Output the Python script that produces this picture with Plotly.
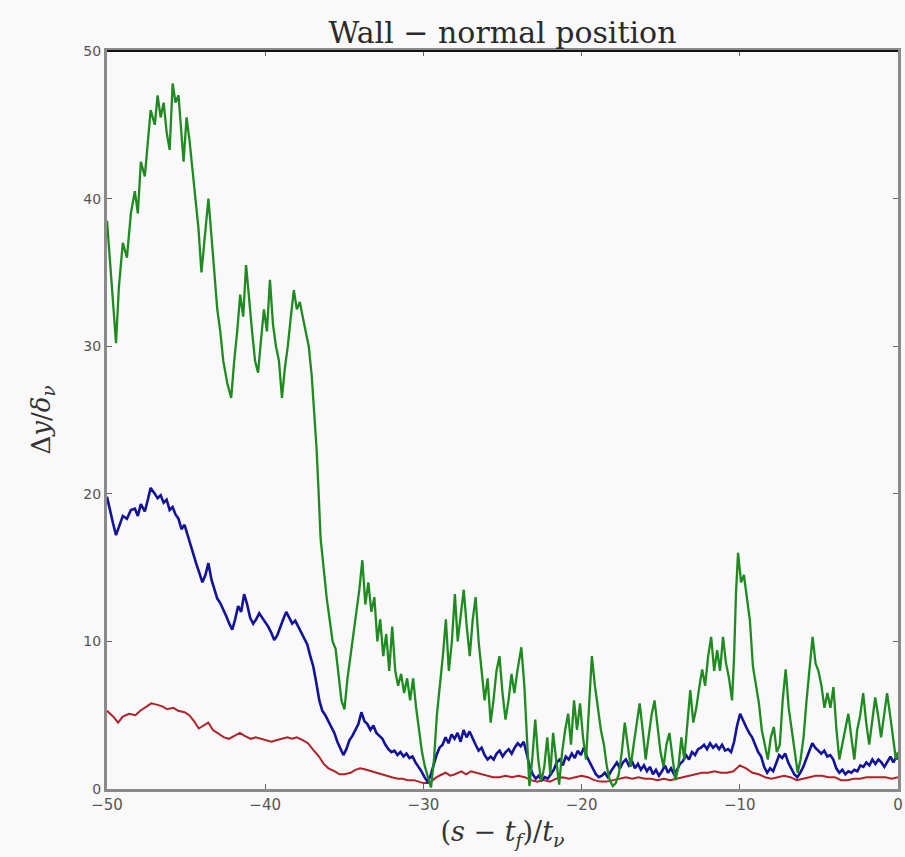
import plotly.graph_objects as go

# ---------------- data ----------------
green_x = [-50.00,-49.81,-49.62,-49.43,-49.25,-49.00,-48.74,-48.49,-48.24,-48.05,-47.86,-47.61,-47.42,-47.24,-46.98,-46.80,-46.61,-46.42,-46.23,-46.04,
           -45.85,-45.67,-45.48,-45.29,-45.16,-44.97,-44.79,-44.60,-44.41,-44.22,-44.03,-43.84,-43.59,-43.40,-43.22,-43.03,-42.84,-42.65,-42.40,-42.15,
           -41.96,-41.77,-41.58,-41.39,-41.21,-41.02,-40.83,-40.64,-40.45,-40.26,-40.08,-39.89,-39.70,-39.51,-39.32,-39.13,-38.94,-38.76,-38.57,-38.38,
           -38.19,-38.00,-37.81,-37.63,-37.44,-37.25,-37.06,-36.87,-36.75,-36.62,-36.50,-36.31,-36.12,-35.93,-35.74,-35.55,-35.36,-35.18,-34.99,-34.80,
           -34.61,-34.42,-34.23,-34.05,-33.86,-33.67,-33.48,-33.29,-33.10,-32.91,-32.73,-32.54,-32.35,-32.16,-31.97,-31.78,-31.60,-31.41,-31.22,-31.03,
           -30.84,-30.65,-30.46,-30.28,-30.09,-29.90,-29.71,-29.52,-29.33,-29.15,-28.96,-28.77,-28.58,-28.39,-28.20,-28.01,-27.83,-27.64,-27.45,-27.26,
           -27.07,-26.88,-26.70,-26.51,-26.32,-26.13,-25.94,-25.75,-25.57,-25.38,-25.19,-25.00,-24.81,-24.62,-24.43,-24.25,-24.06,-23.81,-23.62,-23.43,
           -23.30,-23.12,-22.93,-22.74,-22.55,-22.36,-22.17,-21.98,-21.80,-21.61,-21.42,-21.23,-21.04,-20.85,-20.67,-20.48,-20.29,-20.10,-19.91,-19.72,
           -19.53,-19.35,-19.16,-18.97,-18.78,-18.59,-18.40,-18.22,-18.03,-17.84,-17.65,-17.46,-17.27,-17.09,-16.90,-16.71,-16.52,-16.33,-16.14,-15.95,
           -15.77,-15.58,-15.39,-15.20,-15.01,-14.82,-14.64,-14.45,-14.26,-14.07,-13.88,-13.69,-13.51,-13.32,-13.13,-12.94,-12.75,-12.56,-12.38,-12.19,
           -12.00,-11.81,-11.62,-11.43,-11.25,-11.06,-10.87,-10.68,-10.49,-10.36,-10.24,-10.11,-9.92,-9.74,-9.55,-9.36,-9.17,-8.98,-8.79,-8.61,
           -8.42,-8.23,-8.04,-7.85,-7.66,-7.47,-7.29,-7.10,-6.91,-6.72,-6.53,-6.34,-6.16,-5.97,-5.78,-5.59,-5.40,-5.21,-5.03,-4.84,
           -4.65,-4.46,-4.27,-4.08,-3.89,-3.71,-3.52,-3.33,-3.14,-2.95,-2.76,-2.58,-2.39,-2.20,-2.01,-1.82,-1.63,-1.44,-1.26,-1.07,
           -0.88,-0.69,-0.50,-0.31,-0.13,0.00]
green_y = [38.5,36,33,30.2,34,37,36,39,40.5,39,42.5,41.5,44,46,45,47,45.5,46.5,44.5,43.3,
           47.8,46.5,47,44,42.5,45.5,44,42,40,38,35,37,40,37.5,35,32.5,31,29,27.5,26.5,
           29,31,33.5,32,35.5,33,31,29,28.2,30.5,32.5,31,34.5,31.5,30,29,26.5,28.5,30,32,
           33.8,32.5,33,32,31,30,28,25,23,20,17,15,13,11.5,10,9.5,7.5,6,5.4,7.5,
           9,10.5,12,13.5,15.5,12.5,14,12,13,10,11.5,9,10.5,8,11,8,7,7.8,6.5,7.5,
           6,7.5,5.5,4,2.5,1.5,0.8,0.1,2,5,7,9,11.5,8,10,13.2,10,12,13.5,11,
           9,11.5,13,10,8,6,7.5,4.5,6,8,9,6.5,4.7,6,7.8,6.5,8,9.6,7,3,
           0.2,2,4.7,2,0.5,1.5,3.5,1,3.8,2,0.3,2.5,4,5.1,3,6,4,5.8,3.5,2,
           6,9,7,5.4,4,3,1.5,0.6,0.2,0.4,1,2.5,4.5,3,1.5,3,4.5,5.8,4,2,
           3.5,5,6,4,2.5,1.5,3,3.8,2,0.6,1.5,3.5,2,4.5,6.7,4.5,5.5,6.9,8.1,7,
           9,10.3,8,9.4,8,10.3,8.5,7.5,6,9,13.3,16,14,14.5,12.8,11.4,8.3,7,5.8,4,
           3,2,3.5,4.2,2.5,3,6,8.1,5.5,4,2.5,1.1,2,3.5,6,8,10.3,8.5,8,7,
           5.5,6.5,5.5,6.9,4,2,3,4,5.1,3.5,2,4,5,6.5,4.5,3,4.5,6.2,5,3.5,
           5,6.5,5,3.5,2,2.5]

blue_x = [-50.00,-49.81,-49.62,-49.43,-49.25,-49.00,-48.74,-48.49,-48.24,-48.05,-47.86,-47.61,-47.42,-47.24,-46.98,-46.80,-46.61,-46.42,-46.23,-46.04,
          -45.85,-45.67,-45.48,-45.29,-45.10,-44.91,-44.72,-44.53,-44.34,-44.15,-43.97,-43.78,-43.59,-43.40,-43.22,-43.03,-42.84,-42.65,-42.46,-42.27,
          -42.08,-41.90,-41.71,-41.52,-41.33,-41.14,-40.95,-40.76,-40.57,-40.38,-40.19,-40.00,-39.81,-39.62,-39.43,-39.24,-39.05,-38.86,-38.67,-38.48,
          -38.29,-38.10,-37.91,-37.72,-37.53,-37.34,-37.15,-36.96,-36.77,-36.58,-36.39,-36.20,-36.01,-35.82,-35.63,-35.44,-35.25,-35.06,-34.87,-34.68,
          -34.49,-34.30,-34.11,-33.92,-33.73,-33.54,-33.35,-33.16,-32.97,-32.78,-32.59,-32.40,-32.21,-32.02,-31.83,-31.64,-31.45,-31.26,-31.07,-30.88,
          -30.69,-30.50,-30.31,-30.12,-29.93,-29.74,-29.55,-29.36,-29.17,-28.98,-28.79,-28.60,-28.41,-28.22,-28.03,-27.84,-27.65,-27.46,-27.27,-27.08,
          -26.89,-26.70,-26.51,-26.32,-26.13,-25.94,-25.75,-25.56,-25.37,-25.18,-24.99,-24.80,-24.61,-24.42,-24.23,-24.04,-23.85,-23.66,-23.47,-23.28,
          -23.09,-22.90,-22.71,-22.52,-22.33,-22.14,-21.95,-21.76,-21.57,-21.38,-21.19,-21.00,-20.81,-20.62,-20.43,-20.24,-20.05,-19.86,-19.67,-19.48,
          -19.29,-19.10,-18.91,-18.72,-18.53,-18.34,-18.15,-17.96,-17.77,-17.58,-17.39,-17.20,-17.01,-16.82,-16.63,-16.44,-16.25,-16.06,-15.87,-15.68,
          -15.49,-15.30,-15.11,-14.92,-14.73,-14.54,-14.35,-14.16,-13.97,-13.78,-13.59,-13.40,-13.21,-13.02,-12.83,-12.64,-12.45,-12.26,-12.07,-11.88,
          -11.69,-11.50,-11.31,-11.12,-10.93,-10.74,-10.55,-10.36,-10.17,-9.98,-9.79,-9.60,-9.41,-9.22,-9.03,-8.84,-8.65,-8.46,-8.27,-8.08,
          -7.89,-7.70,-7.51,-7.32,-7.13,-6.94,-6.75,-6.56,-6.37,-6.18,-5.99,-5.80,-5.61,-5.42,-5.23,-5.04,-4.85,-4.66,-4.47,-4.28,
          -4.09,-3.90,-3.71,-3.52,-3.33,-3.14,-2.95,-2.76,-2.57,-2.38,-2.19,-2.00,-1.81,-1.62,-1.43,-1.24,-1.05,-0.86,-0.67,-0.48,
          -0.29,-0.10,0.00]
blue_y = [19.8,18.8,18.0,17.2,17.8,18.5,18.3,18.9,19.0,18.5,19.3,18.8,19.6,20.4,20.0,19.7,19.9,19.4,19.6,18.9,
          19.1,18.6,18.3,17.6,17.9,17.2,16.5,15.8,15.2,14.6,14.0,14.5,15.3,14.2,13.5,12.9,12.6,12.2,11.7,11.2,
          10.8,11.5,12.4,12.0,13.2,12.5,11.6,11.2,11.5,11.9,11.6,11.3,11.0,10.6,10.1,10.4,11.0,11.5,12.0,11.6,
          11.2,11.4,11.0,10.6,10.3,9.8,9.0,8.3,7.2,6.0,5.3,5.0,4.6,4.2,3.8,3.2,2.8,2.3,2.7,3.3,
          3.6,4.0,4.4,5.2,4.6,4.4,4.0,4.3,3.8,3.6,3.4,3.0,2.7,2.5,2.6,2.3,2.5,2.2,2.4,2.1,
          2.2,1.8,1.5,1.2,0.8,0.5,0.9,1.6,2.3,2.8,3.0,3.5,3.1,3.7,3.4,3.8,3.2,4.0,3.5,3.9,
          3.4,3.0,2.6,2.8,2.3,2.0,2.2,2.0,2.4,2.6,2.2,2.5,2.7,2.4,2.8,3.1,2.9,3.2,2.4,1.5,
          1.0,0.7,0.9,0.6,0.8,0.7,1.0,1.3,1.8,2.0,1.6,2.2,2.0,2.4,2.1,2.6,2.3,2.8,2.2,1.8,
          1.4,1.0,0.8,0.9,1.1,0.8,1.2,1.5,1.8,1.4,1.8,2.0,1.6,1.9,1.4,1.7,1.3,1.6,1.2,1.5,
          1.0,1.3,0.9,1.2,1.6,1.1,1.4,1.0,1.3,1.7,1.9,2.3,2.0,2.5,2.3,2.7,2.8,3.0,2.7,3.1,
          2.8,3.0,2.7,3.0,2.6,2.7,2.5,3.2,4.3,5.1,4.6,4.2,3.8,3.5,3.0,2.5,2.2,1.5,1.1,1.4,
          1.2,1.8,2.3,2.1,2.4,1.8,1.4,1.0,0.8,1.1,1.5,2.0,2.6,3.1,2.8,2.6,2.4,2.6,2.2,2.3,
          2.0,1.4,1.1,1.3,1.0,1.2,1.1,1.3,1.2,1.6,1.5,1.8,1.6,2.0,1.7,2.0,1.8,1.5,1.9,2.2,
          1.8,2.2,2.0]

red_x = [-50.0,-49.6,-49.3,-49.0,-48.6,-48.2,-47.9,-47.5,-47.2,-46.8,-46.5,-46.2,-45.8,-45.5,-45.1,-44.8,-44.5,-44.2,-43.9,-43.6,
         -43.3,-42.9,-42.6,-42.3,-41.9,-41.6,-41.3,-40.9,-40.6,-40.3,-39.9,-39.6,-39.3,-39.0,-38.6,-38.3,-38.0,-37.6,-37.3,-37.0,
         -36.6,-36.3,-36.0,-35.6,-35.3,-35.0,-34.6,-34.3,-34.0,-33.6,-33.3,-33.0,-32.6,-32.3,-32.0,-31.6,-31.3,-31.0,-30.6,-30.3,
         -30.0,-29.6,-29.3,-29.0,-28.6,-28.3,-28.0,-27.6,-27.3,-27.0,-26.6,-26.3,-26.0,-25.6,-25.2,-24.8,-24.4,-24.0,-23.6,-23.2,
         -22.8,-22.4,-22.0,-21.6,-21.2,-20.8,-20.4,-20.0,-19.6,-19.2,-18.8,-18.4,-18.0,-17.6,-17.2,-16.8,-16.4,-16.0,-15.6,-15.2,
         -14.8,-14.4,-14.0,-13.6,-13.2,-12.8,-12.4,-12.0,-11.6,-11.2,-10.8,-10.4,-10.0,-9.6,-9.2,-8.8,-8.4,-8.0,-7.6,-7.2,
         -6.8,-6.4,-6.0,-5.6,-5.2,-4.8,-4.4,-4.0,-3.6,-3.2,-2.8,-2.4,-2.0,-1.6,-1.2,-0.8,-0.4,0.0]
red_y = [5.3,4.9,4.5,4.9,5.1,5.0,5.3,5.6,5.8,5.7,5.6,5.4,5.5,5.3,5.2,5.0,4.6,4.1,4.3,4.5,
         4.0,3.7,3.5,3.4,3.6,3.8,3.6,3.4,3.5,3.4,3.3,3.2,3.3,3.4,3.5,3.4,3.5,3.3,3.1,2.7,
         2.2,1.7,1.4,1.2,1.0,1.0,1.1,1.3,1.4,1.3,1.2,1.1,1.0,0.9,0.8,0.7,0.7,0.6,0.6,0.5,
         0.4,0.4,0.7,0.9,1.1,0.9,1.0,1.2,1.0,1.2,1.1,1.0,0.9,0.8,0.8,0.9,0.8,0.9,0.8,0.6,
         0.5,0.6,0.5,0.7,0.8,0.7,0.8,0.9,0.8,0.6,0.5,0.5,0.6,0.7,0.8,0.7,0.8,0.7,0.7,0.6,
         0.7,0.6,0.7,0.8,0.9,1.0,1.1,1.1,1.2,1.1,1.1,1.2,1.6,1.4,1.1,1.0,0.8,0.7,0.8,0.9,
         0.8,0.6,0.7,0.8,0.9,0.9,0.8,0.8,0.6,0.6,0.7,0.7,0.8,0.8,0.8,0.8,0.7,0.8]

x_ticks = [-50, -40, -30, -20, -10, 0]
x_tick_text = ["\u221250", "\u221240", "\u221230", "\u221220", "\u221210", "0"]
y_ticks = [0, 10, 20, 30, 40, 50]

TITLE = "Wall \u2212 normal position"
X_LABEL = "(<i>s</i> \u2212 <i>t</i><sub><i>f</i></sub>)/<i>t</i><sub><i>\u03bd</i></sub>"
Y_LABEL = "\u0394<i>y</i>/<i>\u03b4</i><sub><i>\u03bd</i></sub>"

# ---------------- figure ----------------
fig = go.Figure()
fig.add_trace(go.Scatter(x=red_x, y=red_y, mode="lines",
                         line=dict(color="#b0222a", width=2), showlegend=False))
fig.add_trace(go.Scatter(x=blue_x, y=blue_y, mode="lines",
                         line=dict(color="#12129a", width=2.6), showlegend=False))
fig.add_trace(go.Scatter(x=green_x, y=green_y, mode="lines",
                         line=dict(color="#1f8a1f", width=2.3), showlegend=False))

bg = "#f8f9f8"
fig.update_layout(
    width=905, height=857,
    paper_bgcolor=bg, plot_bgcolor=bg,
    margin=dict(l=107, r=2, t=51, b=68),
    title=dict(text=TITLE, x=0.5, xref="paper", xanchor="center",
               y=0.962, yref="container", yanchor="middle",
               font=dict(family="DejaVu Serif", size=30, color="#2a2a2a")),
    showlegend=False,
)
fig.update_xaxes(range=[-50, 0], tickvals=x_ticks, ticktext=x_tick_text,
                 showgrid=False, zeroline=False,
                 showline=True, linecolor="#8a8a8a", linewidth=3, mirror="ticks",
                 ticks="inside", ticklen=5, tickcolor="#666",
                 tickfont=dict(family="DejaVu Sans", size=15, color="#555"),
                 title=dict(text=X_LABEL, font=dict(family="DejaVu Serif", size=27, color="#333"), standoff=10))
fig.update_yaxes(range=[0, 50], tickvals=y_ticks,
                 showgrid=False, zeroline=False,
                 showline=True, linecolor="#8a8a8a", linewidth=3, mirror="ticks",
                 ticks="inside", ticklen=5, tickcolor="#666",
                 tickfont=dict(family="DejaVu Sans", size=14, color="#555"),
                 title=dict(text=Y_LABEL, font=dict(family="DejaVu Serif", size=26, color="#333"), standoff=26))
# black top spine
fig.add_shape(type="line", xref="paper", yref="paper", x0=0, x1=1, y0=1, y1=1,
              line=dict(color="#111", width=2))

fig.write_html("out.html", config={"displayModeBar": False},
               post_script="document.body.style.margin='0';document.body.style.background='#f8f9f8';")
